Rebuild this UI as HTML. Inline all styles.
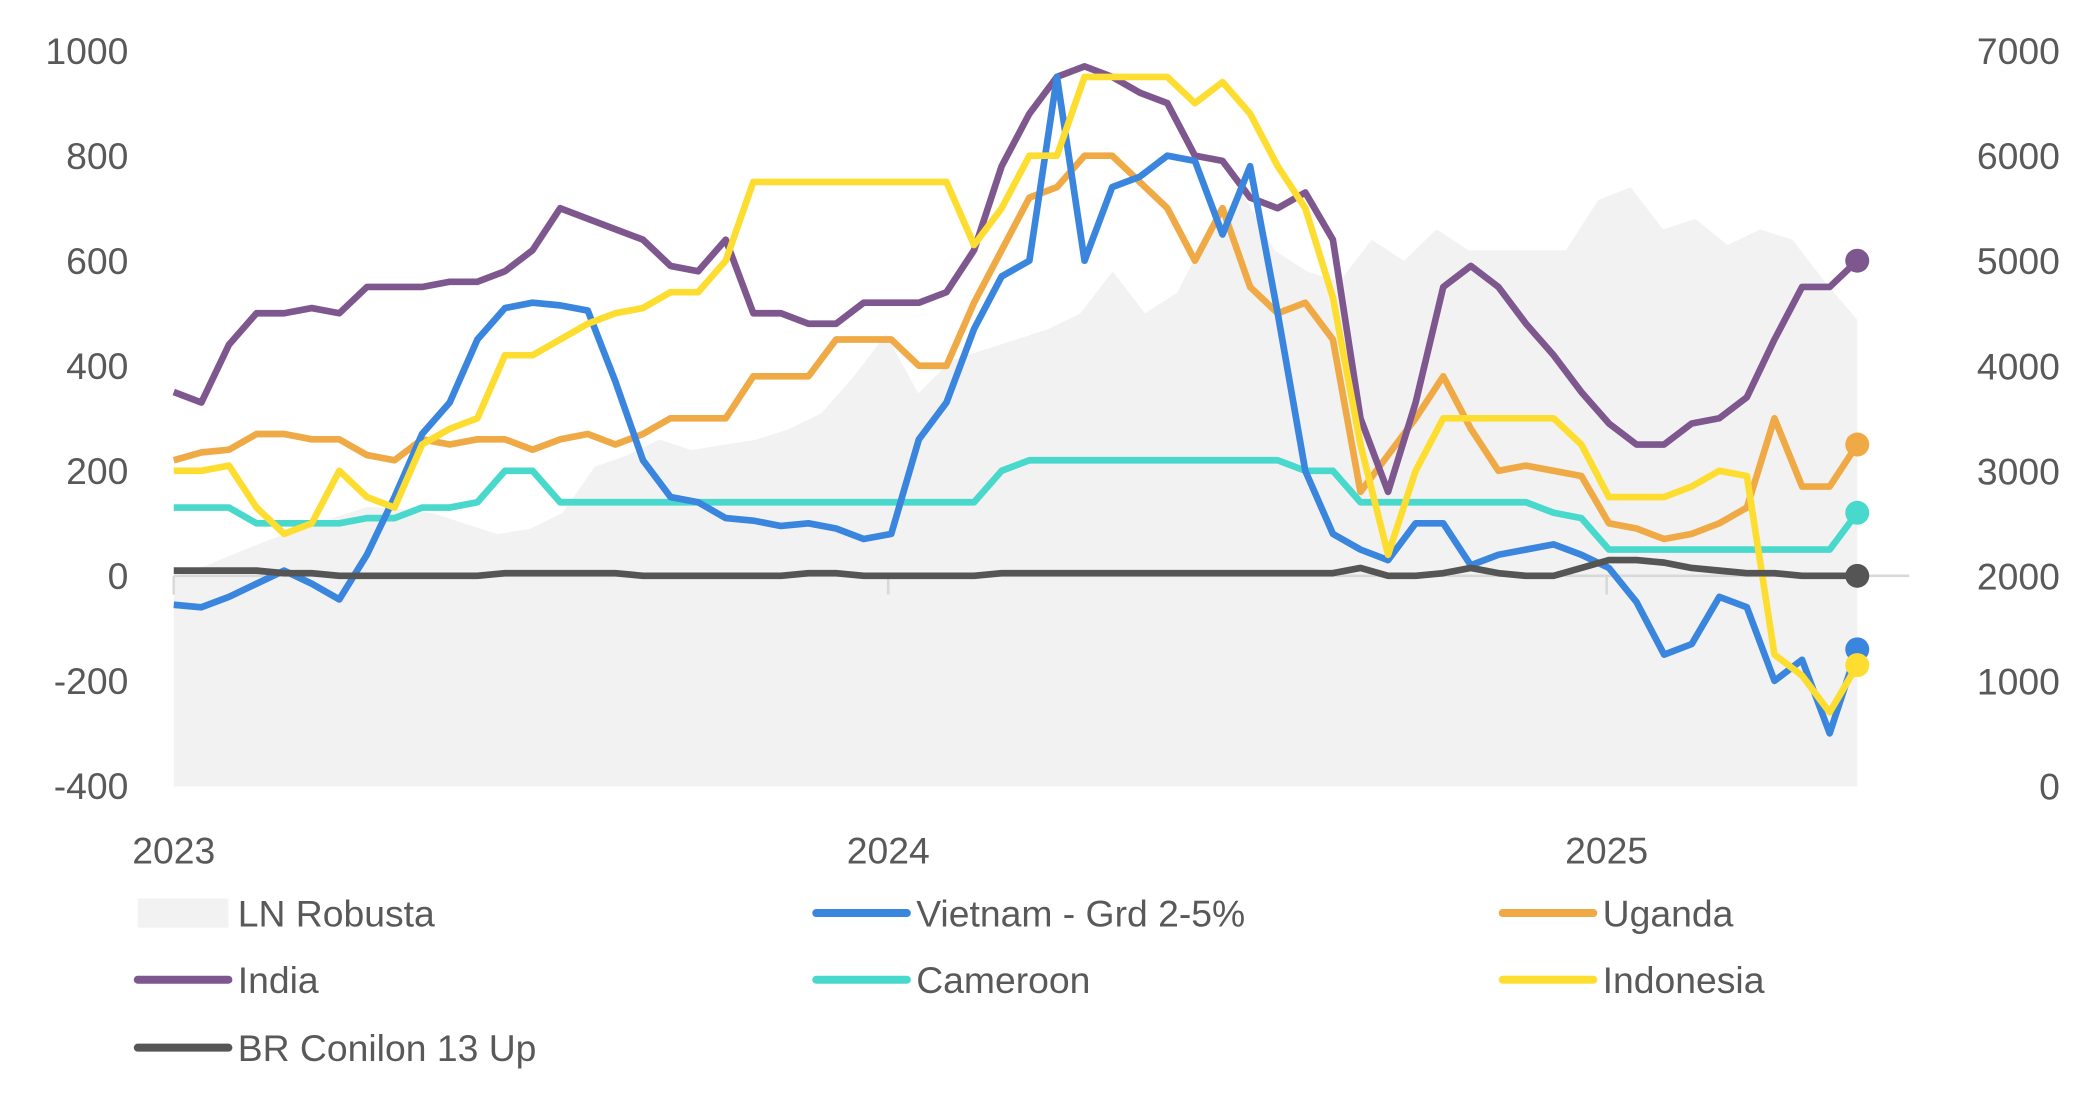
<!DOCTYPE html>
<html><head><meta charset="utf-8"><style>
html,body{margin:0;padding:0;background:#fff;}
svg{display:block;font-family:"Liberation Sans",sans-serif;}
</style></head><body>
<svg id="chart" width="2079" height="1105" viewBox="0 0 1559 829" xmlns="http://www.w3.org/2000/svg"></svg>
<script>
const leftTicks=[1000,800,600,400,200,0,-200,-400];
const rightTicks=[7000,6000,5000,4000,3000,2000,1000,0];
const yearLabels=["2023","2024","2025"];
const lnRobusta=[2000,2100,2230,2350,2470,2560,2660,2640,2600,2500,2400,2450,2600,3040,3150,3300,3200,3250,3300,3400,3550,3900,4300,3740,4050,4150,4250,4350,4500,4900,4500,4700,5300,5650,5100,4900,4800,5200,5000,5300,5100,5100,5100,5100,5580,5700,5300,5400,5150,5300,5200,4800,4440];
const vietnam=[-55,-60,-40,-15,10,-15,-45,40,150,270,330,450,510,520,515,505,370,220,150,140,110,105,95,100,90,70,80,260,330,470,570,600,950,600,740,760,800,790,650,780,500,200,80,50,30,100,100,20,40,50,60,40,15,-50,-150,-130,-40,-60,-200,-160,-300,-140];
const india=[350,330,440,500,500,510,500,550,550,550,560,560,580,620,700,680,660,640,590,580,640,500,500,480,480,520,520,520,540,620,780,880,950,970,950,920,900,800,790,720,700,730,640,300,160,330,550,590,550,480,420,350,290,250,250,290,300,340,450,550,550,600];
const uganda=[220,235,240,270,270,260,260,230,220,260,250,260,260,240,260,270,250,270,300,300,300,380,380,380,450,450,450,400,400,520,620,720,740,800,800,750,700,600,700,550,500,520,450,160,230,300,380,280,200,210,200,190,100,90,70,80,100,130,300,170,170,250];
const cameroon=[130,130,130,100,100,100,100,110,110,130,130,140,200,200,140,140,140,140,140,140,140,140,140,140,140,140,140,140,140,140,200,220,220,220,220,220,220,220,220,220,220,200,200,140,140,140,140,140,140,140,120,110,50,50,50,50,50,50,50,50,50,120];
const indonesia=[200,200,210,130,80,100,200,150,130,250,280,300,420,420,450,480,500,510,540,540,600,750,750,750,750,750,750,750,750,630,700,800,800,950,950,950,950,900,940,880,780,700,530,250,40,200,300,300,300,300,300,250,150,150,150,170,200,190,-150,-190,-260,-170];
const brConilon=[10,10,10,10,5,5,0,0,0,0,0,0,5,5,5,5,5,0,0,0,0,0,0,5,5,0,0,0,0,0,5,5,5,5,5,5,5,5,5,5,5,5,5,15,0,0,5,15,5,0,0,15,30,30,25,15,10,5,5,0,0,0];

const svg=document.getElementById('chart');const NS="http://www.w3.org/2000/svg";
function mk(t,a,p){const e=document.createElementNS(NS,t);for(const k in a)e.setAttribute(k,a[k]);(p||svg).appendChild(e);return e;}
const x0=130,x1=1393;
function xs(i,n){return x0+(x1-x0)*i/(n-1);}
function yl(v){return 432-(v)*(432-38)/1000;}
function yr(v){return 590-v*552/7000;}
// area
let d="M"+x0+","+yr(0);
lnRobusta.forEach((v,i)=>{d+=" L"+xs(i,lnRobusta.length).toFixed(1)+","+yr(v).toFixed(1);});
d+=" L"+x1+","+yr(0)+" Z";
const area=mk('path',{d:d,fill:'#f2f2f2'});


const zl=mk('line',{x1:x0,x2:1432,y1:yl(0),y2:yl(0),stroke:'#d9d9d9','stroke-width':2});


[130,666,1205].forEach((x,i)=>{
 const t=mk('line',{x1:x,x2:x,y1:432,y2:446,stroke:'#d9d9d9','stroke-width':2});
 
 
 const l=mk('text',{x:x,y:648,'text-anchor':'middle','font-size':28,fill:'#595959'});l.textContent=yearLabels[i];
 
 
});
leftTicks.forEach(v=>{const t=mk('text',{x:96,y:yl(v)+10,'text-anchor':'end','font-size':28,fill:'#595959'});t.textContent=v;
 
 });
rightTicks.forEach(v=>{const t=mk('text',{x:1545,y:yr(v)+10,'text-anchor':'end','font-size':28,fill:'#595959'});t.textContent=v;
 
 });
const series=[[cameroon,'#48d9cc','cameroon-line'],[uganda,'#efaa45','uganda-line'],[india,'#7e578f','india-line'],[vietnam,'#3a86de','vietnam-line'],[indonesia,'#fddd2f','indonesia-line'],[brConilon,'#555555','br-conilon-line']];
series.forEach(([arr,c,name])=>{
 const pts=arr.map((v,i)=>xs(i,arr.length).toFixed(1)+","+yl(v).toFixed(1)).join(" ");
 const p=mk('polyline',{points:pts,fill:'none',stroke:c,'stroke-width':5,'stroke-linejoin':'round'});
 
 
 const dot=mk('circle',{cx:xs(arr.length-1,arr.length),cy:yl(arr[arr.length-1]),r:9,fill:c});
 
 
});
const legend=[['LN Robusta','#f2f2f2',103,685,true],['Vietnam - Grd 2-5%','#3a86de',612,685],['Uganda','#efaa45',1127,685],['India','#7e578f',103,735],['Cameroon','#48d9cc',612,735],['Indonesia','#fddd2f',1127,735],['BR Conilon 13 Up','#555555',103,786]];
legend.forEach(([lab,c,x,y,isArea])=>{
 const g=mk('g',{});
 
 
 if(isArea)mk('rect',{x:x,y:y-11,width:68,height:22,fill:c},g);
 else mk('line',{x1:x,x2:x+68,y1:y,y2:y,stroke:c,'stroke-width':6,'stroke-linecap':'round'},g);
 const t=mk('text',{x:x+75,y:y+10,'font-size':28,fill:'#595959'},g);t.textContent=lab;
});
</script>
</body></html>
